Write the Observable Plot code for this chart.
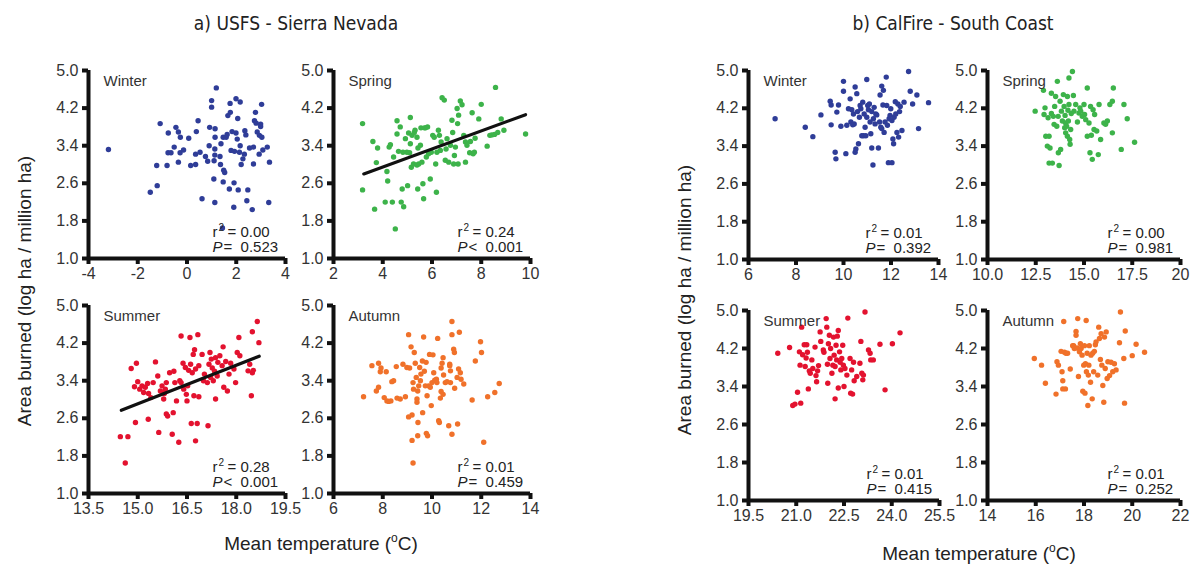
<!DOCTYPE html>
<html><head><meta charset="utf-8">
<script src="https://cdn.jsdelivr.net/npm/d3@7"></script>
<script src="https://cdn.jsdelivr.net/npm/@observablehq/plot@0.6"></script>
<style>
body{margin:0;background:#fff;}
#wrap{position:relative;width:1199px;height:565px;overflow:hidden;font-family:"Liberation Sans",Arial,sans-serif;background:#fff;}
#wrap svg{position:absolute;}
.t{position:absolute;white-space:nowrap;color:#222;}
.title{font-family:"DejaVu Sans Condensed","Liberation Sans Narrow",sans-serif;font-size:19px;transform:translate(-50%,-50%);}
.ylab{font-size:19px;transform:translate(-50%,-50%) rotate(-90deg);}
.xlab{font-size:19px;transform:translate(-50%,-50%);}
.xlab sup{font-size:12px;}
</style></head>
<body><div id="wrap"></div>
<script>
// ---- data: [mean temperature (°C), area burned (log ha / million ha)] ----
const usfsWinter = [[-3.19,3.32],[-1.49,2.41],[-1.21,2.55],[-1.23,2.98],[-0.81,2.98],[-1.09,3.87],[-0.76,3.67],[-0.77,3.25],[-0.65,3.25],[-0.45,3.79],[-0.35,3.69],[-0.52,3.37],[-0.35,3.05],[-0.28,3.25],[-0.14,3.31],[-0.27,3.58],[0.07,3.56],[0.15,2.98],[0.35,3.00],[0.35,3.22],[0.38,3.70],[0.45,3.93],[0.53,3.26],[0.61,2.27],[0.75,3.17],[0.84,3.07],[0.90,3.40],[0.92,3.79],[1.00,4.22],[1.00,4.36],[1.10,3.08],[1.13,3.33],[1.14,3.58],[1.14,3.76],[1.13,3.20],[1.09,2.69],[1.13,2.19],[1.19,4.63],[1.34,3.17],[1.36,3.00],[1.38,3.44],[1.47,3.58],[1.49,2.88],[1.53,2.83],[1.47,2.63],[1.44,1.65],[1.59,3.58],[1.63,3.64],[1.66,4.04],[1.75,4.30],[1.79,3.30],[1.72,2.48],[1.76,4.11],[1.83,3.70],[1.90,2.09],[1.91,2.61],[1.93,3.28],[1.99,4.40],[1.99,3.67],[2.04,3.54],[2.06,3.98],[2.08,2.46],[2.13,3.26],[2.16,4.33],[2.16,3.40],[2.20,3.00],[2.27,3.12],[2.33,3.22],[2.35,3.72],[2.39,3.63],[2.43,2.23],[2.47,2.46],[2.54,3.35],[2.65,2.04],[2.70,3.01],[2.70,3.37],[2.74,3.93],[2.78,4.11],[2.81,3.88],[2.85,3.69],[2.93,3.22],[2.94,3.62],[2.99,3.81],[3.03,4.28],[3.04,3.58],[2.99,3.86],[3.08,3.31],[3.32,2.19],[3.35,3.05],[3.26,3.37]];
const usfsSpring = [[3.18,3.87],[3.18,2.46],[3.60,3.49],[3.67,2.05],[3.74,3.04],[3.79,3.35],[4.10,2.20],[4.17,2.85],[4.20,2.65],[4.26,3.37],[4.31,3.42],[4.39,2.20],[4.44,3.16],[4.51,1.63],[4.58,3.93],[4.58,3.65],[4.64,3.28],[4.71,3.80],[4.75,2.20],[4.79,2.48],[4.85,2.10],[4.82,3.26],[4.92,3.55],[4.98,3.26],[5.01,2.55],[5.05,3.67],[5.09,3.25],[5.12,4.00],[5.12,3.44],[5.16,2.94],[5.19,3.62],[5.25,3.01],[5.28,3.68],[5.31,3.73],[5.39,3.58],[5.39,2.99],[5.42,2.48],[5.43,3.35],[5.46,3.01],[5.53,3.41],[5.55,3.78],[5.59,3.05],[5.63,2.59],[5.66,2.27],[5.69,3.78],[5.74,3.78],[5.77,3.16],[5.82,3.80],[5.86,3.23],[5.93,2.69],[5.97,3.26],[6.03,3.62],[6.09,3.58],[6.15,3.01],[6.18,2.41],[6.20,3.26],[6.26,3.73],[6.30,3.62],[6.34,3.30],[6.37,3.48],[6.41,4.42],[6.50,4.37],[6.54,3.09],[6.57,3.33],[6.61,3.55],[6.68,3.05],[6.75,3.41],[6.81,3.94],[6.84,3.68],[6.88,3.01],[6.91,3.19],[6.95,3.37],[7.02,4.19],[7.04,3.87],[7.06,3.01],[7.08,4.05],[7.15,4.35],[7.22,4.27],[7.29,3.62],[7.36,3.48],[7.36,3.05],[7.42,3.41],[7.53,3.25],[7.56,3.49],[7.63,4.10],[7.67,3.23],[7.72,3.26],[7.75,3.56],[7.90,3.97],[8.00,4.28],[8.24,3.39],[8.35,3.62],[8.43,3.63],[8.54,3.64],[8.58,4.64],[8.67,3.68],[8.81,3.97],[8.92,3.73],[9.80,3.65]];
const usfsSummer = [[14.47,2.21],[14.70,2.21],[14.62,1.65],[14.80,3.66],[14.96,3.77],[14.93,2.51],[14.90,3.27],[15.00,3.38],[15.06,3.22],[15.13,3.29],[15.18,3.15],[15.23,3.26],[15.30,3.34],[15.33,3.13],[15.32,2.58],[15.40,3.04],[15.47,3.36],[15.54,3.80],[15.61,3.50],[15.64,2.30],[15.69,3.18],[15.74,3.29],[15.79,3.01],[15.81,3.13],[15.84,3.22],[15.87,2.69],[15.91,2.65],[15.87,3.36],[15.97,3.57],[16.05,2.26],[16.08,2.72],[16.10,3.60],[16.13,3.36],[16.18,2.97],[16.25,2.09],[16.28,3.40],[16.32,3.36],[16.32,4.35],[16.38,3.77],[16.40,3.22],[16.45,3.68],[16.48,3.11],[16.50,2.97],[16.52,3.29],[16.55,3.62],[16.59,4.32],[16.61,3.75],[16.63,2.49],[16.66,3.57],[16.69,3.96],[16.71,3.08],[16.73,4.06],[16.76,2.12],[16.76,3.65],[16.81,2.49],[16.83,4.38],[16.86,3.06],[16.86,3.72],[16.96,3.96],[17.00,3.40],[17.03,3.54],[17.12,3.36],[17.14,2.44],[17.17,3.75],[17.20,4.00],[17.22,3.47],[17.24,3.86],[17.27,3.67],[17.30,3.40],[17.34,3.60],[17.37,3.01],[17.37,3.89],[17.42,3.50],[17.44,3.79],[17.50,3.93],[17.57,3.72],[17.60,4.12],[17.62,3.26],[17.68,3.81],[17.73,3.18],[17.78,3.54],[17.83,3.77],[17.93,3.65],[17.98,3.36],[18.03,4.00],[18.08,4.32],[18.11,3.93],[18.36,3.61],[18.41,3.75],[18.46,3.08],[18.49,3.57],[18.49,4.44],[18.52,3.62],[18.64,4.66],[18.69,4.21]];
const usfsAutumn = [[7.22,3.06],[7.56,3.72],[7.74,3.18],[7.83,3.26],[7.83,3.77],[7.90,3.59],[7.93,3.67],[8.06,3.04],[8.14,3.59],[8.17,2.97],[8.24,2.96],[8.33,2.97],[8.37,3.38],[8.44,3.40],[8.55,3.70],[8.58,3.03],[8.71,3.01],[8.82,3.75],[8.92,3.06],[8.98,3.68],[9.05,4.38],[9.05,2.63],[9.09,3.67],[9.15,4.12],[9.19,2.67],[9.23,3.36],[9.19,2.13],[9.23,1.65],[9.25,3.22],[9.28,4.00],[9.32,3.77],[9.36,3.47],[9.39,3.01],[9.39,2.94],[9.42,3.18],[9.43,2.51],[9.42,2.23],[9.46,3.29],[9.50,3.68],[9.53,3.40],[9.55,3.54],[9.61,3.82],[9.62,2.72],[9.66,4.33],[9.69,3.60],[9.73,3.29],[9.76,3.79],[9.77,2.28],[9.80,3.08],[9.82,2.23],[9.86,3.29],[9.90,3.96],[9.93,3.26],[9.97,2.87],[10.00,3.36],[10.04,3.95],[10.07,3.57],[10.11,3.41],[10.18,3.43],[10.20,3.36],[10.23,4.30],[10.27,2.55],[10.30,2.51],[10.34,3.03],[10.37,3.17],[10.37,3.67],[10.41,3.77],[10.45,3.89],[10.45,3.11],[10.47,3.52],[10.54,3.36],[10.61,3.38],[10.68,2.44],[10.72,3.72],[10.72,3.75],[10.75,3.61],[10.75,3.36],[10.81,4.66],[10.81,4.38],[10.81,2.26],[10.88,4.07],[10.91,4.00],[10.92,3.24],[11.02,3.47],[11.04,2.48],[11.08,3.65],[11.11,4.43],[11.15,3.57],[11.18,3.43],[11.29,3.33],[11.63,2.99],[11.76,3.82],[11.97,4.23],[12.01,4.00],[12.10,2.09],[12.26,3.06],[12.55,3.15],[12.73,3.34]];
const calfireWinter = [[7.12,3.98],[8.39,3.80],[8.71,3.60],[9.05,4.06],[9.44,4.35],[9.48,4.27],[9.48,3.85],[9.65,3.27],[9.68,3.13],[9.72,4.12],[9.79,4.27],[9.89,3.82],[10.00,4.77],[10.00,4.56],[10.10,3.24],[10.14,3.84],[10.21,4.19],[10.28,4.40],[10.31,3.91],[10.35,4.17],[10.39,3.85],[10.42,4.08],[10.45,3.87],[10.49,4.65],[10.49,3.27],[10.52,3.34],[10.56,4.51],[10.59,4.13],[10.63,3.45],[10.67,4.01],[10.70,4.26],[10.73,4.19],[10.77,3.62],[10.81,4.33],[10.84,3.62],[10.87,4.08],[10.91,3.80],[10.94,3.62],[10.98,4.81],[10.98,4.01],[11.02,4.26],[11.05,4.17],[11.09,4.29],[11.12,3.91],[11.15,3.66],[11.19,4.13],[11.19,3.36],[11.24,3.00],[11.26,3.98],[11.29,4.22],[11.33,3.87],[11.36,4.08],[11.40,4.06],[11.47,3.36],[11.52,3.91],[11.54,4.48],[11.57,3.80],[11.61,4.67],[11.61,3.77],[11.66,4.27],[11.68,4.58],[11.71,3.69],[11.75,3.91],[11.80,4.86],[11.82,4.26],[11.85,3.84],[11.89,3.05],[11.92,3.98],[11.96,4.05],[11.99,4.19],[12.04,3.05],[12.04,3.94],[12.08,3.55],[12.11,3.45],[12.13,4.01],[12.18,4.34],[12.20,4.08],[12.25,3.69],[12.29,4.29],[12.32,3.59],[12.36,4.13],[12.39,4.24],[12.46,3.73],[12.55,4.33],[12.74,4.98],[12.81,4.56],[12.91,4.29],[13.09,4.48],[13.16,3.77],[13.58,4.32]];
const calfireSpring = [[12.47,4.14],[12.90,4.58],[12.93,4.07],[12.98,4.21],[13.02,3.61],[13.10,3.40],[13.14,4.00],[13.19,3.61],[13.19,3.04],[13.24,3.36],[13.31,4.52],[13.31,4.09],[13.36,3.04],[13.41,4.03],[13.45,3.86],[13.48,4.24],[13.53,4.45],[13.59,3.82],[13.62,4.77],[13.66,4.03],[13.67,3.26],[13.71,2.99],[13.76,4.35],[13.79,3.33],[13.83,4.14],[13.88,3.93],[13.93,4.49],[13.97,4.24],[14.00,3.79],[14.02,4.05],[14.05,3.89],[14.05,3.68],[14.10,3.82],[14.14,4.45],[14.14,3.61],[14.17,4.16],[14.19,3.93],[14.22,4.84],[14.22,4.28],[14.26,3.54],[14.28,3.44],[14.31,3.75],[14.34,4.09],[14.40,4.98],[14.45,4.47],[14.48,4.14],[14.57,4.28],[14.66,3.91],[14.74,4.10],[14.79,4.21],[14.83,4.14],[14.91,4.03],[15.00,4.28],[15.03,4.07],[15.09,3.96],[15.17,4.63],[15.17,3.61],[15.26,3.89],[15.31,3.26],[15.34,4.24],[15.38,3.63],[15.43,3.12],[15.47,4.17],[15.52,3.75],[15.55,4.07],[15.66,3.72],[15.74,3.22],[15.78,4.28],[15.86,3.54],[16.03,3.89],[16.12,3.86],[16.21,3.93],[16.34,4.28],[16.47,3.68],[16.47,4.35],[16.52,4.63],[17.07,4.28],[17.24,3.98],[16.93,3.33],[17.62,3.48]];
const calfireSummer = [[20.42,4.10],[20.79,4.22],[20.89,3.00],[20.96,3.03],[21.04,3.28],[21.10,4.13],[21.12,3.85],[21.14,3.05],[21.17,4.65],[21.20,4.07],[21.25,4.28],[21.28,3.82],[21.31,4.00],[21.33,4.28],[21.35,4.12],[21.38,3.35],[21.41,3.73],[21.44,3.68],[21.49,3.96],[21.52,3.78],[21.59,4.23],[21.62,3.63],[21.64,3.50],[21.67,3.73],[21.70,3.84],[21.75,4.55],[21.77,4.35],[21.85,4.17],[21.87,4.12],[21.94,4.83],[21.96,4.65],[21.98,3.87],[21.99,3.47],[22.01,4.30],[22.04,4.48],[22.06,3.99],[22.08,4.20],[22.12,3.68],[22.15,3.85],[22.17,4.44],[22.19,4.06],[22.22,3.14],[22.22,3.82],[22.25,4.27],[22.27,3.96],[22.29,4.46],[22.32,4.58],[22.32,3.37],[22.36,4.13],[22.38,3.91],[22.40,3.75],[22.43,3.99],[22.46,4.27],[22.48,3.85],[22.50,3.40],[22.53,3.78],[22.59,3.64],[22.62,4.84],[22.69,3.99],[22.71,3.26],[22.74,3.75],[22.77,3.24],[22.80,3.91],[22.82,3.52],[22.90,3.61],[23.00,3.89],[23.03,4.35],[23.06,3.68],[23.09,3.54],[23.11,3.64],[23.16,4.97],[23.27,4.17],[23.32,4.10],[23.34,3.96],[23.42,3.96],[23.63,4.29],[23.79,3.33],[24.02,4.30],[24.26,4.53]];
const calfireAutumn = [[15.94,3.99],[16.24,3.85],[16.40,3.47],[16.84,3.24],[16.88,3.92],[16.94,3.85],[17.05,4.14],[17.09,3.71],[17.12,3.52],[17.12,3.35],[17.16,4.77],[17.19,4.12],[17.23,3.35],[17.25,4.10],[17.32,4.10],[17.43,3.77],[17.53,4.26],[17.57,4.26],[17.60,4.20],[17.67,4.56],[17.67,4.48],[17.71,4.21],[17.74,4.83],[17.77,3.61],[17.81,4.13],[17.85,4.30],[17.88,4.20],[17.92,4.06],[17.95,3.30],[17.99,3.85],[18.02,4.26],[18.04,3.26],[18.06,3.88],[18.09,4.79],[18.10,3.71],[18.13,4.10],[18.16,3.00],[18.18,3.64],[18.20,3.85],[18.22,4.26],[18.27,3.49],[18.29,4.06],[18.34,3.14],[18.36,4.10],[18.40,3.71],[18.43,4.14],[18.47,4.28],[18.50,4.34],[18.57,3.64],[18.61,4.65],[18.64,4.41],[18.68,3.97],[18.71,4.51],[18.74,3.85],[18.78,3.42],[18.82,3.07],[18.85,4.44],[18.88,3.78],[18.92,4.55],[18.96,3.57],[18.99,3.92],[19.06,3.63],[19.12,3.91],[19.19,3.71],[19.26,3.88],[19.33,3.75],[19.47,4.32],[19.51,4.97],[19.65,3.99],[19.68,3.05],[19.71,4.57],[20.00,4.05],[20.16,4.29],[20.51,4.12]];

// fitted regression lines (temperature endpoints, fitted area burned)
const usfsSpringFitT = [3.23, 9.8], usfsSpringFitA = [2.80, 4.06];
const usfsSummerFitT = [14.5, 18.7], usfsSummerFitA = [2.77, 3.92];

// axis ticks
const yTicks = [1.0, 1.8, 2.6, 3.4, 4.2, 5.0];
const usfsWinterTicks = [-4, -2, 0, 2, 4];
const usfsSpringTicks = [2, 4, 6, 8, 10];
const usfsSummerTicks = [13.5, 15.0, 16.5, 18.0, 19.5];
const usfsAutumnTicks = [6, 8, 10, 12, 14];
const calfireWinterTicks = [6, 8, 10, 12, 14];
const calfireSpringTicks = [10.0, 12.5, 15.0, 17.5, 20];
const calfireSummerTicks = [19.5, 21.0, 22.5, 24.0, 25.5];
const calfireAutumnTicks = [14, 16, 18, 20, 22];

// statistics
const seasons = ["Winter", "Spring", "Summer", "Autumn"];
const usfsR2 = ["0.00", "0.24", "0.28", "0.01"];
const usfsP = ["= 0.523", "< 0.001", "< 0.001", "= 0.459"];
const calfireR2 = ["0.01", "0.00", "0.01", "0.01"];
const calfireP = ["= 0.392", "= 0.981", "= 0.415", "= 0.252"];

const colors = {Winter: "#2f3d98", Spring: "#3db34a", Summer: "#e3122f", Autumn: "#f0712a"};

const wrap = document.getElementById("wrap");

function panel(cfg) {
  const mL = 46, mR = 22, mT = 8, mB = 34;
  const W = cfg.px[1] - cfg.px[0] + mL + mR;
  const H = cfg.py[1] - cfg.py[0] + mT + mB;
  const pts = cfg.data.map(([t, a]) => ({t, a}));
  const ticks = cfg.xTicks;
  const marks = [
    Plot.dot(pts, {x: "t", y: "a", r: 2.7, fill: cfg.color})
  ];
  if (cfg.fit) {
    const fl = cfg.fit[0].map((t, i) => ({t, a: cfg.fit[1][i]}));
    marks.push(Plot.line(fl, {x: "t", y: "a", stroke: "#111", strokeWidth: 3.2}));
  }
  marks.push(
    Plot.ruleX([ticks[0]], {stroke: "#111", strokeWidth: 4}),
    Plot.ruleY([1], {stroke: "#111", strokeWidth: 4}),
    Plot.axisX(ticks, {tickSize: 6, strokeWidth: 4, stroke: "#111", fill: "#333", tickPadding: 3, fontSize: 16, tickFormat: cfg.xFmt, label: null}),
    Plot.axisY(yTicks, {tickSize: 6, strokeWidth: 4, stroke: "#111", fill: "#333", tickPadding: 4, fontSize: 16, tickFormat: d => d.toFixed(1), label: null}),
    Plot.text([cfg.label], {text: d => d, frameAnchor: "top-left", dx: 15, dy: 11, lineAnchor: "middle", textAnchor: "start", fontSize: 15, fill: "#333"}),
    Plot.text(["r"], {text: d => d, frameAnchor: "bottom-right", dx: -73, dy: -26, lineAnchor: "middle", textAnchor: "start", fontSize: 15, fill: "#222"}),
    Plot.text(["2"], {text: d => d, frameAnchor: "bottom-right", dx: -67, dy: -31, lineAnchor: "middle", textAnchor: "start", fontSize: 10, fill: "#222"}),
    Plot.text(["= " + cfg.r2], {text: d => d, frameAnchor: "bottom-right", dx: -58, dy: -26, lineAnchor: "middle", textAnchor: "start", fontSize: 15, fill: "#222"}),
    Plot.text(["P"], {text: d => d, frameAnchor: "bottom-right", dx: -73, dy: -11, lineAnchor: "middle", textAnchor: "start", fontSize: 15, fontStyle: "italic", fill: "#222"}),
    Plot.text([cfg.p.replace(" ", "\u00a0\u00a0")], {text: d => d, frameAnchor: "bottom-right", dx: -62, dy: -11, lineAnchor: "middle", textAnchor: "start", fontSize: 15, fill: "#222"})
  );
  const svg = Plot.plot({
    width: W, height: H,
    marginLeft: mL, marginRight: mR, marginTop: mT, marginBottom: mB,
    x: {domain: [ticks[0], ticks[ticks.length - 1]], axis: null},
    y: {domain: [1, 5], axis: null},
    style: {background: "transparent", fontFamily: "'Liberation Sans', Arial, sans-serif", overflow: "visible"},
    marks
  });
  svg.style.left = (cfg.px[0] - mL) + "px";
  svg.style.top = (cfg.py[0] - mT) + "px";
  wrap.appendChild(svg);
}

const fmt1 = d => d.toFixed(1);

panel({data: usfsWinter, color: colors.Winter, label: seasons[0], xTicks: usfsWinterTicks, xFmt: d => d < 0 ? "-" + Math.abs(d) : String(d), px: [88, 285], py: [70, 258], r2: usfsR2[0], p: usfsP[0]});
panel({data: usfsSpring, color: colors.Spring, label: seasons[1], xTicks: usfsSpringTicks, xFmt: d => String(d), px: [333, 530], py: [70, 258], r2: usfsR2[1], p: usfsP[1], fit: [usfsSpringFitT, usfsSpringFitA]});
panel({data: usfsSummer, color: colors.Summer, label: seasons[2], xTicks: usfsSummerTicks, xFmt: fmt1, px: [88, 285], py: [305, 493], r2: usfsR2[2], p: usfsP[2], fit: [usfsSummerFitT, usfsSummerFitA]});
panel({data: usfsAutumn, color: colors.Autumn, label: seasons[3], xTicks: usfsAutumnTicks, xFmt: d => String(d), px: [333, 530], py: [305, 493], r2: usfsR2[3], p: usfsP[3]});
panel({data: calfireWinter, color: colors.Winter, label: seasons[0], xTicks: calfireWinterTicks, xFmt: d => String(d), px: [748, 938], py: [70, 259], r2: calfireR2[0], p: calfireP[0]});
panel({data: calfireSpring, color: colors.Spring, label: seasons[1], xTicks: calfireSpringTicks, xFmt: d => d === 20 ? "20" : d.toFixed(1), px: [987, 1180], py: [70, 259], r2: calfireR2[1], p: calfireP[1]});
panel({data: calfireSummer, color: colors.Summer, label: seasons[2], xTicks: calfireSummerTicks, xFmt: fmt1, px: [748, 939], py: [310, 500], r2: calfireR2[2], p: calfireP[2]});
panel({data: calfireAutumn, color: colors.Autumn, label: seasons[3], xTicks: calfireAutumnTicks, xFmt: d => String(d), px: [987, 1180], py: [310, 500], r2: calfireR2[3], p: calfireP[3]});

function addText(cls, html, x, y) {
  const d = document.createElement("div");
  d.className = "t " + cls;
  d.innerHTML = html;
  d.style.left = x + "px";
  d.style.top = y + "px";
  wrap.appendChild(d);
}
addText("title", "a) USFS - Sierra Nevada", 296, 23);
addText("title", "b) CalFire - South Coast", 953, 23);
addText("ylab", "Area burned (log ha / million ha)", 25, 291);
addText("ylab", "Area burned (log ha / million ha)", 685, 300);
addText("xlab", "Mean temperature (<sup>o</sup>C)", 321, 543);
addText("xlab", "Mean temperature (<sup>o</sup>C)", 979, 553);
</script>
</body></html>
